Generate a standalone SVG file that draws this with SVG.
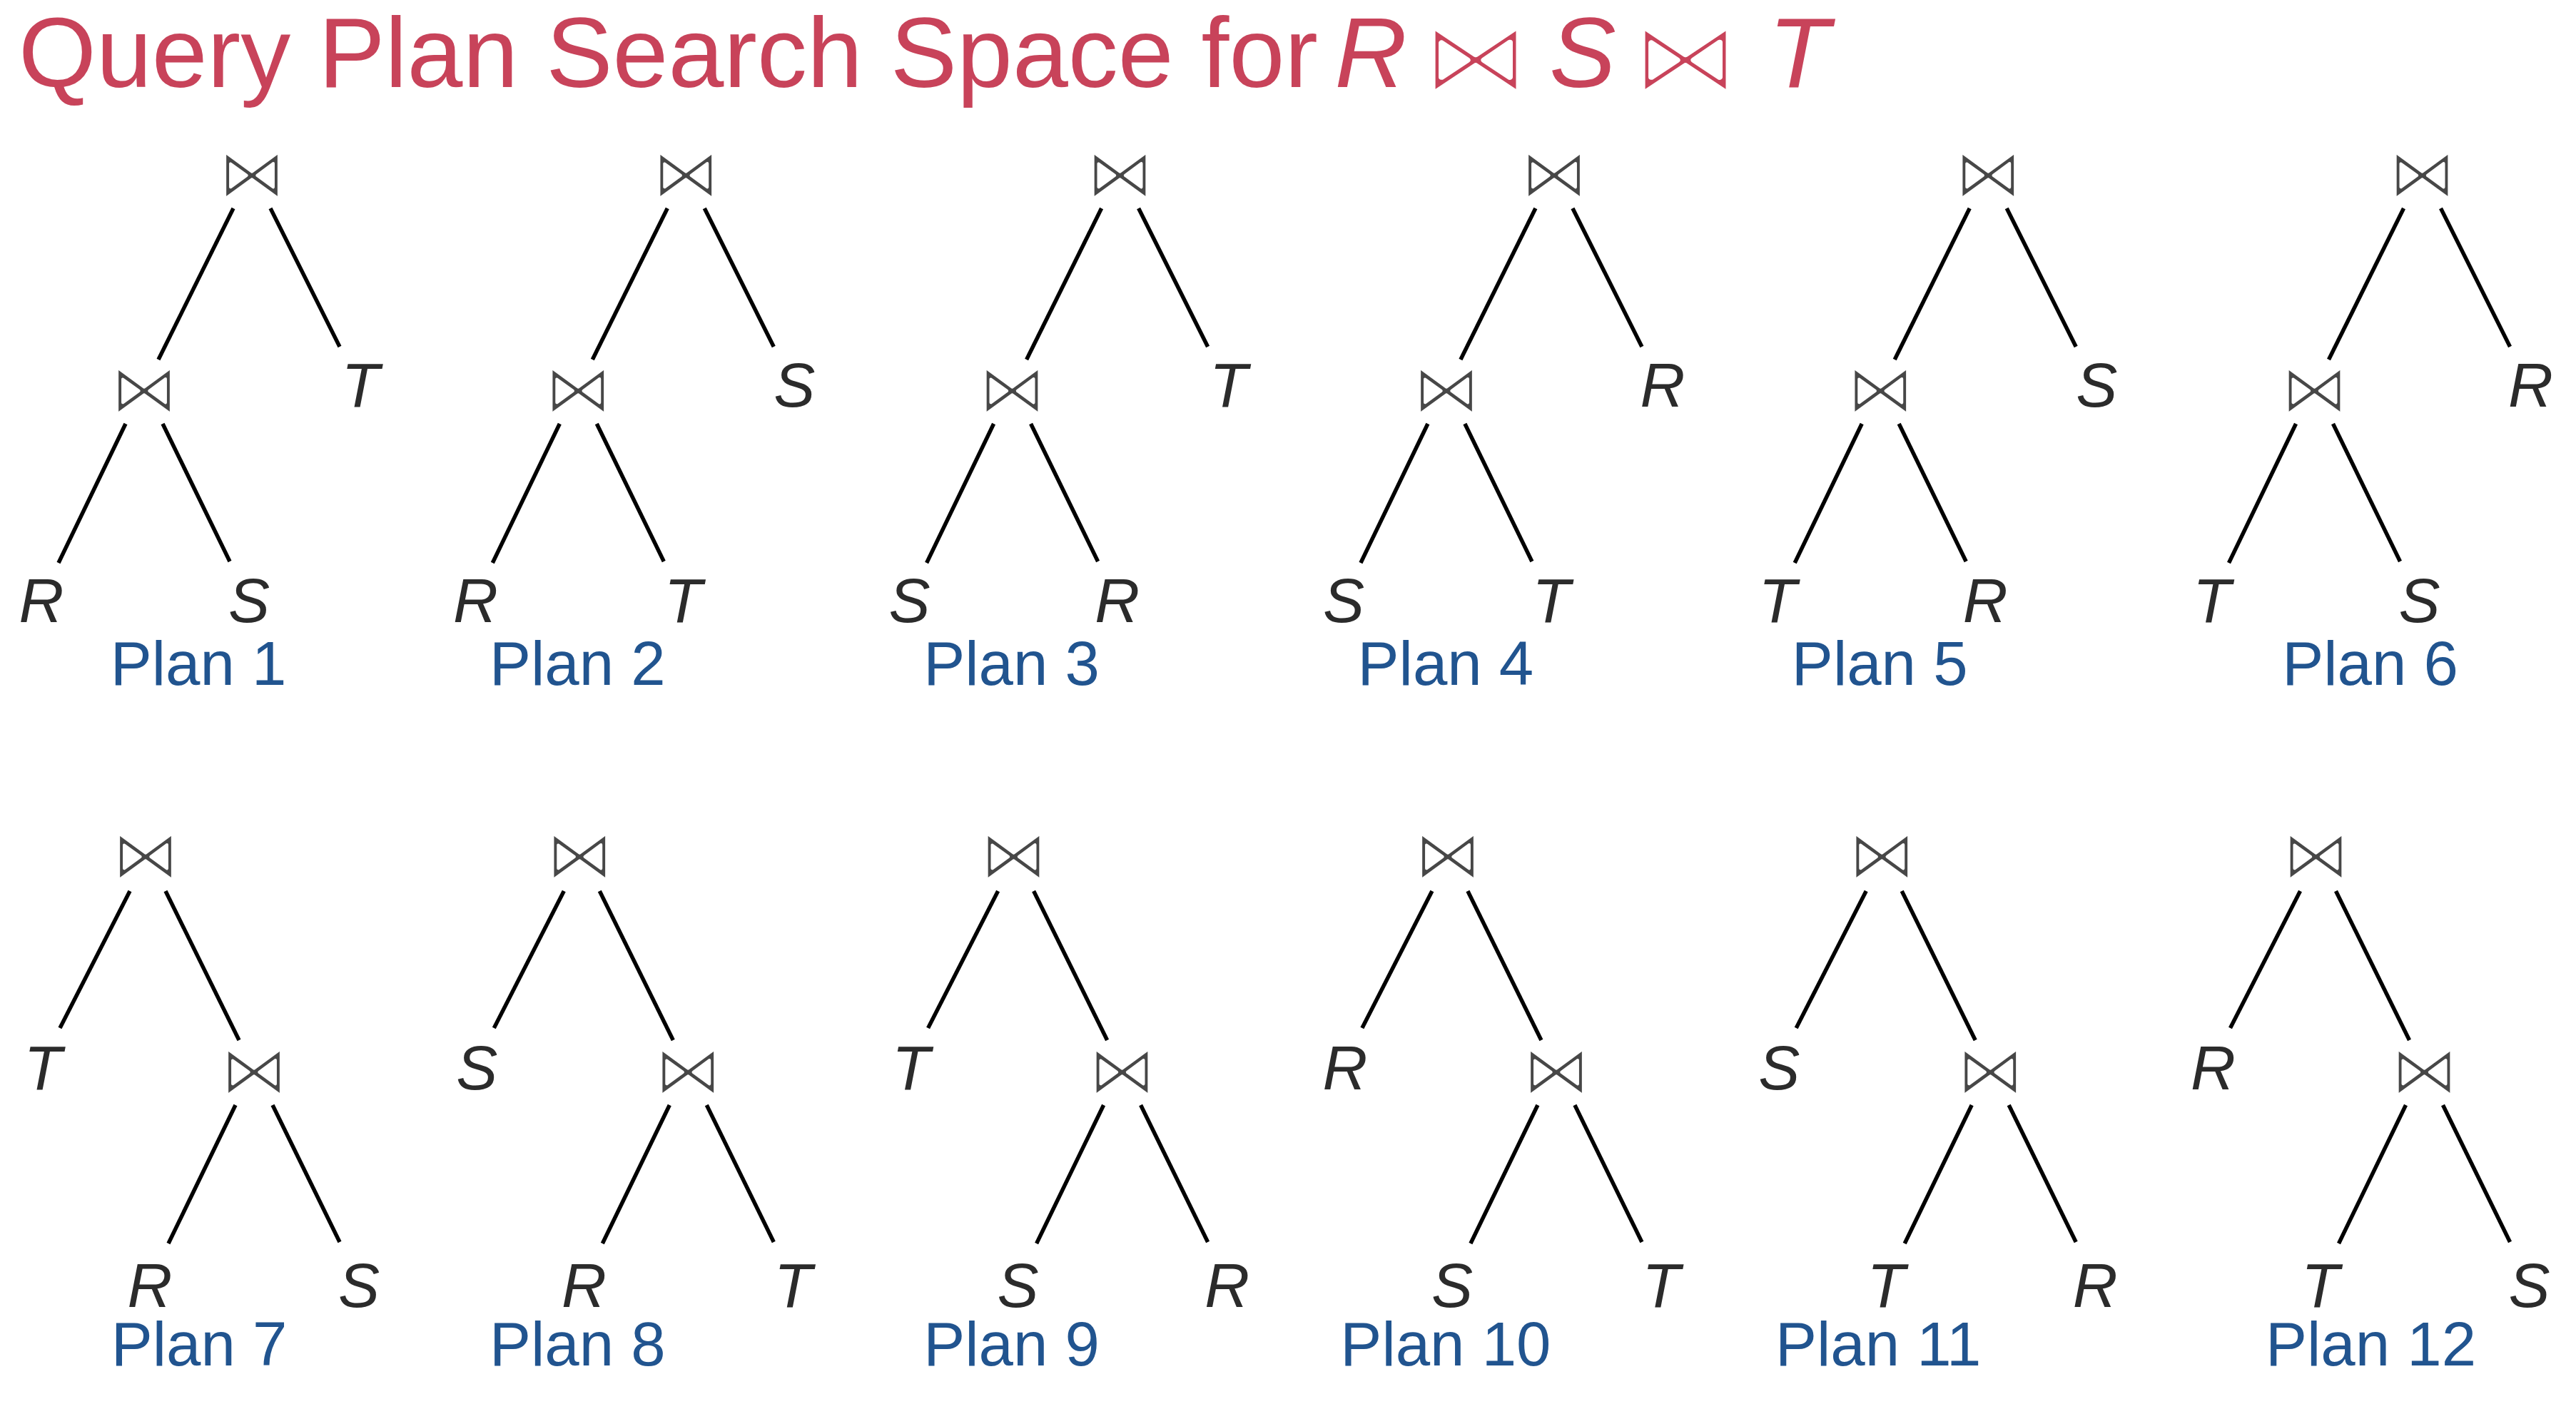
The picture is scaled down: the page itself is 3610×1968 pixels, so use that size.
<svg xmlns="http://www.w3.org/2000/svg" width="3610" height="1968" viewBox="0 0 3610 1968">
<style>
.title{font-family:"Liberation Sans",Arial,sans-serif;font-size:140px;fill:#c8435a}
.tvar{font-family:"Liberation Sans",Arial,sans-serif;font-size:140px;font-style:italic;fill:#c8435a;text-anchor:middle}
.tj{font-family:"DejaVu Sans",sans-serif;font-size:140px;fill:#c8435a;stroke:#fff;stroke-width:7.5;stroke-linejoin:round;text-anchor:middle;transform-box:fill-box;transform-origin:center;transform:scale(1.1,1)}
.j{font-family:"DejaVu Sans",sans-serif;font-size:96px;fill:#474747;stroke:#fff;stroke-width:4;stroke-linejoin:round;text-anchor:middle}
.leaf{font-family:"Liberation Sans",Arial,sans-serif;font-size:87px;font-style:italic;fill:#2b2b2b;text-anchor:middle}
.lbl{font-family:"Liberation Sans",Arial,sans-serif;font-size:87px;fill:#21548f;text-anchor:middle}
.edge line{stroke:#000;stroke-width:5.5;fill:none}
</style>
<rect width="3610" height="1968" fill="#fff"/>
<g id="title">
<text class="title" x="26" y="122">Query Plan Search Space for</text>
<text class="tvar" x="1921" y="122">R</text>
<text class="tj" x="2068" y="128">⋈</text>
<text class="tvar" x="2218" y="122">S</text>
<text class="tj" x="2362" y="128">⋈</text>
<text class="tvar" x="2521" y="122">T</text>
</g>
<g id="connectors" class="edge">
<g id="edges-plan1" transform="translate(0,0)"><line x1="327" y1="292" x2="222" y2="504"/><line x1="379" y1="292" x2="476" y2="486"/><line x1="176" y1="594" x2="82" y2="789"/><line x1="228" y1="594" x2="322" y2="787"/></g>
<g id="edges-plan2" transform="translate(608.3,0)"><line x1="327" y1="292" x2="222" y2="504"/><line x1="379" y1="292" x2="476" y2="486"/><line x1="176" y1="594" x2="82" y2="789"/><line x1="228" y1="594" x2="322" y2="787"/></g>
<g id="edges-plan3" transform="translate(1216.6,0)"><line x1="327" y1="292" x2="222" y2="504"/><line x1="379" y1="292" x2="476" y2="486"/><line x1="176" y1="594" x2="82" y2="789"/><line x1="228" y1="594" x2="322" y2="787"/></g>
<g id="edges-plan4" transform="translate(1824.9,0)"><line x1="327" y1="292" x2="222" y2="504"/><line x1="379" y1="292" x2="476" y2="486"/><line x1="176" y1="594" x2="82" y2="789"/><line x1="228" y1="594" x2="322" y2="787"/></g>
<g id="edges-plan5" transform="translate(2433.2,0)"><line x1="327" y1="292" x2="222" y2="504"/><line x1="379" y1="292" x2="476" y2="486"/><line x1="176" y1="594" x2="82" y2="789"/><line x1="228" y1="594" x2="322" y2="787"/></g>
<g id="edges-plan6" transform="translate(3041.5,0)"><line x1="327" y1="292" x2="222" y2="504"/><line x1="379" y1="292" x2="476" y2="486"/><line x1="176" y1="594" x2="82" y2="789"/><line x1="228" y1="594" x2="322" y2="787"/></g>
<g id="edges-plan7" transform="translate(0,0)"><line x1="182" y1="1249" x2="84" y2="1441"/><line x1="232" y1="1249" x2="335" y2="1458"/><line x1="330" y1="1549" x2="236" y2="1743"/><line x1="382" y1="1549" x2="476" y2="1741"/></g>
<g id="edges-plan8" transform="translate(608.3,0)"><line x1="182" y1="1249" x2="84" y2="1441"/><line x1="232" y1="1249" x2="335" y2="1458"/><line x1="330" y1="1549" x2="236" y2="1743"/><line x1="382" y1="1549" x2="476" y2="1741"/></g>
<g id="edges-plan9" transform="translate(1216.6,0)"><line x1="182" y1="1249" x2="84" y2="1441"/><line x1="232" y1="1249" x2="335" y2="1458"/><line x1="330" y1="1549" x2="236" y2="1743"/><line x1="382" y1="1549" x2="476" y2="1741"/></g>
<g id="edges-plan10" transform="translate(1824.9,0)"><line x1="182" y1="1249" x2="84" y2="1441"/><line x1="232" y1="1249" x2="335" y2="1458"/><line x1="330" y1="1549" x2="236" y2="1743"/><line x1="382" y1="1549" x2="476" y2="1741"/></g>
<g id="edges-plan11" transform="translate(2433.2,0)"><line x1="182" y1="1249" x2="84" y2="1441"/><line x1="232" y1="1249" x2="335" y2="1458"/><line x1="330" y1="1549" x2="236" y2="1743"/><line x1="382" y1="1549" x2="476" y2="1741"/></g>
<g id="edges-plan12" transform="translate(3041.5,0)"><line x1="182" y1="1249" x2="84" y2="1441"/><line x1="232" y1="1249" x2="335" y2="1458"/><line x1="330" y1="1549" x2="236" y2="1743"/><line x1="382" y1="1549" x2="476" y2="1741"/></g>
</g>
<g id="plan1" transform="translate(0,0)">
<g id="p1-root"><text class="j" x="353" y="276">⋈</text></g>
<g id="p1-join"><text class="j" x="202" y="578">⋈</text></g>
<g id="p1-T"><text class="leaf" x="505" y="570">T</text></g>
<g id="p1-R"><text class="leaf" x="58" y="872">R</text></g>
<g id="p1-S"><text class="leaf" x="349" y="872">S</text></g>
<g id="p1-label"><text class="lbl" x="278" y="960">Plan 1</text></g>
</g>
<g id="plan2" transform="translate(608.3,0)">
<g id="p2-root"><text class="j" x="353" y="276">⋈</text></g>
<g id="p2-join"><text class="j" x="202" y="578">⋈</text></g>
<g id="p2-S"><text class="leaf" x="505" y="570">S</text></g>
<g id="p2-R"><text class="leaf" x="58" y="872">R</text></g>
<g id="p2-T"><text class="leaf" x="349" y="872">T</text></g>
<g id="p2-label"><text class="lbl" x="201" y="960">Plan 2</text></g>
</g>
<g id="plan3" transform="translate(1216.6,0)">
<g id="p3-root"><text class="j" x="353" y="276">⋈</text></g>
<g id="p3-join"><text class="j" x="202" y="578">⋈</text></g>
<g id="p3-T"><text class="leaf" x="505" y="570">T</text></g>
<g id="p3-S"><text class="leaf" x="58" y="872">S</text></g>
<g id="p3-R"><text class="leaf" x="349" y="872">R</text></g>
<g id="p3-label"><text class="lbl" x="201" y="960">Plan 3</text></g>
</g>
<g id="plan4" transform="translate(1824.9,0)">
<g id="p4-root"><text class="j" x="353" y="276">⋈</text></g>
<g id="p4-join"><text class="j" x="202" y="578">⋈</text></g>
<g id="p4-R"><text class="leaf" x="505" y="570">R</text></g>
<g id="p4-S"><text class="leaf" x="58" y="872">S</text></g>
<g id="p4-T"><text class="leaf" x="349" y="872">T</text></g>
<g id="p4-label"><text class="lbl" x="201" y="960">Plan 4</text></g>
</g>
<g id="plan5" transform="translate(2433.2,0)">
<g id="p5-root"><text class="j" x="353" y="276">⋈</text></g>
<g id="p5-join"><text class="j" x="202" y="578">⋈</text></g>
<g id="p5-S"><text class="leaf" x="505" y="570">S</text></g>
<g id="p5-T"><text class="leaf" x="58" y="872">T</text></g>
<g id="p5-R"><text class="leaf" x="349" y="872">R</text></g>
<g id="p5-label"><text class="lbl" x="201" y="960">Plan 5</text></g>
</g>
<g id="plan6" transform="translate(3041.5,0)">
<g id="p6-root"><text class="j" x="353" y="276">⋈</text></g>
<g id="p6-join"><text class="j" x="202" y="578">⋈</text></g>
<g id="p6-R"><text class="leaf" x="505" y="570">R</text></g>
<g id="p6-T"><text class="leaf" x="58" y="872">T</text></g>
<g id="p6-S"><text class="leaf" x="349" y="872">S</text></g>
<g id="p6-label"><text class="lbl" x="280" y="960">Plan 6</text></g>
</g>
<g id="plan7" transform="translate(0,0)">
<g id="p7-root"><text class="j" x="204" y="1231">⋈</text></g>
<g id="p7-T"><text class="leaf" x="60" y="1527">T</text></g>
<g id="p7-join"><text class="j" x="356" y="1533">⋈</text></g>
<g id="p7-R"><text class="leaf" x="210" y="1832">R</text></g>
<g id="p7-S"><text class="leaf" x="503" y="1832">S</text></g>
<g id="p7-label"><text class="lbl" x="279" y="1914">Plan 7</text></g>
</g>
<g id="plan8" transform="translate(608.3,0)">
<g id="p8-root"><text class="j" x="204" y="1231">⋈</text></g>
<g id="p8-S"><text class="leaf" x="60" y="1527">S</text></g>
<g id="p8-join"><text class="j" x="356" y="1533">⋈</text></g>
<g id="p8-R"><text class="leaf" x="210" y="1832">R</text></g>
<g id="p8-T"><text class="leaf" x="503" y="1832">T</text></g>
<g id="p8-label"><text class="lbl" x="201" y="1914">Plan 8</text></g>
</g>
<g id="plan9" transform="translate(1216.6,0)">
<g id="p9-root"><text class="j" x="204" y="1231">⋈</text></g>
<g id="p9-T"><text class="leaf" x="60" y="1527">T</text></g>
<g id="p9-join"><text class="j" x="356" y="1533">⋈</text></g>
<g id="p9-S"><text class="leaf" x="210" y="1832">S</text></g>
<g id="p9-R"><text class="leaf" x="503" y="1832">R</text></g>
<g id="p9-label"><text class="lbl" x="201" y="1914">Plan 9</text></g>
</g>
<g id="plan10" transform="translate(1824.9,0)">
<g id="p10-root"><text class="j" x="204" y="1231">⋈</text></g>
<g id="p10-R"><text class="leaf" x="60" y="1527">R</text></g>
<g id="p10-join"><text class="j" x="356" y="1533">⋈</text></g>
<g id="p10-S"><text class="leaf" x="210" y="1832">S</text></g>
<g id="p10-T"><text class="leaf" x="503" y="1832">T</text></g>
<g id="p10-label"><text class="lbl" x="201" y="1914">Plan 10</text></g>
</g>
<g id="plan11" transform="translate(2433.2,0)">
<g id="p11-root"><text class="j" x="204" y="1231">⋈</text></g>
<g id="p11-S"><text class="leaf" x="60" y="1527">S</text></g>
<g id="p11-join"><text class="j" x="356" y="1533">⋈</text></g>
<g id="p11-T"><text class="leaf" x="210" y="1832">T</text></g>
<g id="p11-R"><text class="leaf" x="503" y="1832">R</text></g>
<g id="p11-label"><text class="lbl" x="199" y="1914">Plan 11</text></g>
</g>
<g id="plan12" transform="translate(3041.5,0)">
<g id="p12-root"><text class="j" x="204" y="1231">⋈</text></g>
<g id="p12-R"><text class="leaf" x="60" y="1527">R</text></g>
<g id="p12-join"><text class="j" x="356" y="1533">⋈</text></g>
<g id="p12-T"><text class="leaf" x="210" y="1832">T</text></g>
<g id="p12-S"><text class="leaf" x="503" y="1832">S</text></g>
<g id="p12-label"><text class="lbl" x="281" y="1914">Plan 12</text></g>
</g>
</svg>
